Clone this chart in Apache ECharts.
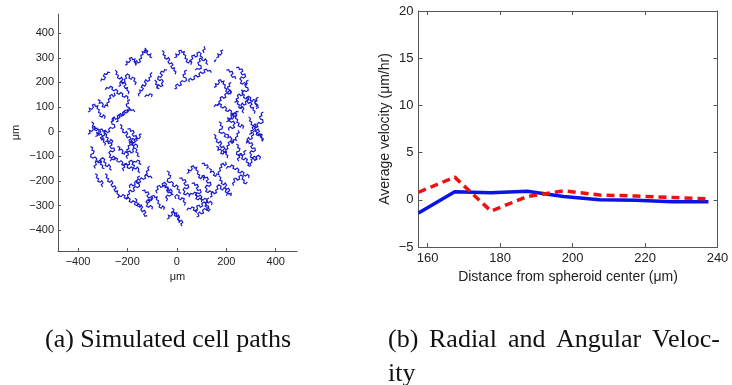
<!DOCTYPE html>
<html>
<head>
<meta charset="utf-8">
<script src="https://cdn.jsdelivr.net/npm/echarts@6/dist/echarts.min.js"></script>
<style>
  html, body { margin: 0; padding: 0; background: #fff; }
  #chart { width: 732px; height: 385px; }
</style>
</head>
<body>
<div id="chart"></div>
<script>
// (a) cell paths as [x1, y1, x2, y2, ...] in um
var cellPaths = [
  [-360,80, -351,84, -354,95, -344,91, -338,99, -342,108, -333,111, -329,102, -320,105, -323,94, -314,89, -317,78, -308,74, -312,64, -303,59, -297,68, -290,62, -294,52],
  [-345,40, -337,33, -341,23, -332,19, -335,9, -326,4, -319,11, -314,2, -321,-6, -315,-15, -306,-10, -301,-19, -309,-25, -304,-34, -295,-31, -297,-42, -289,-47, -292,-57],
  [-250,60, -259,55, -256,45, -265,41, -262,31, -253,28, -251,18, -260,13, -269,17, -276,10, -272,0, -281,-4, -288,3, -295,-3, -291,-13, -300,-17, -298,-27, -307,-31],
  [-290,-40, -280,-38, -277,-48, -267,-45, -263,-54, -271,-60, -265,-69, -255,-66, -252,-76, -260,-82, -269,-78, -275,-86, -268,-94, -273,-103, -264,-107, -257,-100, -249,-106, -251,-116],
  [-330,-150, -335,-140, -326,-134, -330,-123, -320,-119, -315,-127, -306,-122, -309,-112, -300,-106, -292,-113, -296,-123, -287,-128, -290,-138, -281,-142, -275,-134, -269,-142, -272,-152, -264,-157],
  [-270,-120, -264,-111, -255,-114, -249,-106, -240,-110, -243,-119, -234,-124, -226,-118, -219,-125, -223,-134, -214,-138, -207,-131, -199,-136, -201,-146, -192,-150, -185,-143, -178,-149, -180,-159],
  [-240,-60, -231,-64, -234,-75, -224,-71, -218,-79, -222,-88, -213,-91, -209,-82, -200,-85, -203,-74, -194,-69, -197,-58, -188,-54, -192,-44, -183,-39, -177,-48, -170,-42, -174,-32],
  [-230,30, -222,23, -226,13, -217,9, -220,-1, -211,-6, -204,1, -199,-8, -206,-16, -200,-25, -191,-20, -186,-29, -194,-35, -189,-44, -180,-41, -182,-52, -174,-57, -177,-67],
  [-215,-160, -220,-150, -211,-144, -215,-133, -205,-129, -200,-137, -191,-132, -194,-122, -185,-116, -177,-123, -181,-133, -172,-138, -175,-148, -166,-152, -160,-144, -154,-152, -157,-162, -149,-167],
  [-150,-180, -159,-185, -156,-195, -165,-199, -162,-209, -153,-212, -151,-222, -160,-227, -169,-223, -176,-230, -172,-240, -181,-244, -188,-237, -195,-243, -191,-253, -200,-257, -198,-267, -207,-271],
  [-140,-240, -130,-238, -127,-248, -117,-245, -113,-254, -121,-260, -115,-269, -105,-266, -102,-276, -110,-282, -119,-278, -125,-286, -118,-294, -123,-303, -114,-307, -107,-300, -99,-306, -101,-316],
  [-100,-190, -106,-181, -115,-184, -121,-176, -130,-180, -127,-189, -136,-194, -144,-188, -151,-195, -147,-204, -156,-208, -163,-201, -171,-206, -169,-216, -178,-220, -185,-213, -192,-219, -190,-229],
  [-120,-290, -111,-286, -114,-275, -104,-279, -98,-271, -102,-262, -93,-259, -89,-268, -80,-265, -83,-276, -74,-281, -77,-292, -68,-296, -72,-306, -63,-311, -57,-302, -50,-308, -54,-318],
  [-170,-270, -162,-277, -166,-287, -157,-291, -160,-301, -151,-306, -144,-299, -139,-308, -146,-316, -140,-325, -131,-320, -126,-329, -134,-335, -129,-344, -120,-341],
  [-80,-250, -85,-240, -76,-234, -80,-223, -70,-219, -65,-227, -56,-222, -59,-212, -50,-206, -42,-213, -46,-223, -37,-228, -40,-238, -31,-242, -25,-234, -19,-242, -22,-252, -14,-257],
  [-40,-160, -31,-165, -34,-175, -25,-179, -28,-189, -37,-192, -39,-202, -30,-207, -21,-203, -14,-210, -18,-220, -9,-224, -2,-217, 5,-223, 1,-233, 10,-237, 8,-247, 17,-251],
  [10,-190, 20,-188, 23,-198, 33,-195, 37,-204, 29,-210, 35,-219, 45,-216, 48,-226, 40,-232, 31,-228, 25,-236, 32,-244, 27,-253, 36,-257, 43,-250, 51,-256, 49,-266],
  [40,-170, 49,-166, 46,-155, 56,-159, 62,-151, 58,-142, 67,-139, 71,-148, 80,-145, 77,-156, 86,-161, 83,-172, 92,-176, 88,-186, 97,-191, 103,-182, 110,-188, 106,-198],
  [-20,-310, -12,-317, -16,-327, -7,-331, -10,-341, -1,-346, 6,-339, 11,-348, 4,-356, 10,-365, 19,-360, 24,-369, 16,-375, 21,-384],
  [50,-260, 56,-251, 65,-254, 71,-246, 80,-250, 77,-259, 86,-264, 94,-258, 101,-265, 97,-274, 106,-278, 113,-271, 121,-276, 119,-286, 128,-290, 135,-283, 142,-289, 140,-299],
  [130,-270, 121,-275, 124,-285, 115,-289, 118,-299, 127,-302, 129,-312, 120,-317, 111,-313, 104,-320, 108,-330, 99,-334, 92,-327, 85,-333, 89,-343, 80,-347],
  [80,-330, 75,-320, 84,-314, 80,-303, 90,-299, 95,-307, 104,-302, 101,-292, 110,-286, 118,-293, 114,-303, 123,-308, 120,-318, 129,-322, 135,-314],
  [100,-180, 110,-178, 113,-188, 123,-185, 127,-194, 119,-200, 125,-209, 135,-206, 138,-216, 130,-222, 121,-218, 115,-226, 122,-234, 117,-243, 126,-247, 133,-240, 141,-246, 139,-256],
  [130,-150, 139,-154, 136,-165, 146,-161, 152,-169, 148,-178, 157,-181, 161,-172, 170,-175, 167,-164, 176,-159, 173,-148, 182,-144, 178,-134, 187,-129, 193,-138, 200,-132, 196,-122],
  [170,-180, 178,-187, 174,-197, 183,-201, 180,-211, 189,-216, 196,-209, 201,-218, 194,-226, 200,-235, 209,-230, 214,-239, 206,-245, 211,-254, 220,-251, 218,-262],
  [200,-150, 206,-141, 215,-144, 221,-136, 230,-140, 227,-149, 236,-154, 244,-148, 251,-155, 247,-164, 256,-168, 263,-161, 271,-166, 269,-176, 278,-180, 285,-173, 292,-179, 290,-189],
  [230,-220, 225,-210, 234,-204, 230,-193, 240,-189, 245,-197, 254,-192, 251,-182, 260,-176, 268,-183, 264,-193, 273,-198, 270,-208, 279,-212, 285,-204],
  [240,-50, 249,-55, 246,-65, 255,-69, 252,-79, 243,-82, 241,-92, 250,-97, 259,-93, 266,-100, 262,-110, 271,-114, 278,-107, 285,-113, 281,-123, 290,-127, 288,-137, 297,-141],
  [280,-40, 290,-38, 293,-48, 303,-45, 307,-54, 299,-60, 305,-69, 315,-66, 318,-76, 310,-82, 301,-78, 295,-86, 302,-94, 297,-103, 306,-107, 313,-100, 321,-106, 319,-116],
  [160,-60, 169,-64, 166,-75, 176,-71, 182,-79, 178,-88, 187,-91, 191,-82, 200,-85, 197,-74, 206,-69, 203,-58, 212,-54, 208,-44, 217,-39, 223,-48, 230,-42, 226,-32],
  [150,-10, 158,-17, 154,-27, 163,-31, 160,-41, 169,-46, 176,-39, 181,-48, 174,-56, 180,-65, 189,-60, 194,-69, 186,-75, 191,-84, 200,-81, 198,-92, 206,-97, 203,-107],
  [345,-40, 350,-30, 341,-24, 345,-13, 335,-9, 330,-17, 321,-12, 324,-2, 315,4, 307,-3, 311,-13, 302,-18, 305,-28, 296,-32, 290,-24, 284,-32, 287,-42, 279,-47],
  [350,80, 341,75, 344,65, 335,61, 338,51, 347,48, 349,38, 340,33, 331,37, 324,30, 328,20, 319,16, 312,23, 305,17, 309,7, 300,3, 302,-7, 293,-11],
  [250,80, 240,82, 237,72, 227,75, 223,66, 231,60, 225,51, 215,54, 212,44, 220,38, 229,42, 235,34, 228,26, 233,17, 224,13, 217,20, 209,14, 211,4],
  [200,40, 209,44, 206,55, 216,51, 222,59, 218,68, 227,71, 231,62, 240,65, 237,54, 246,49, 243,38, 252,34, 248,24, 257,19, 263,28, 270,22, 266,12],
  [150,100, 156,109, 165,106, 171,114, 180,110, 177,101, 186,96, 194,102, 201,95, 197,86, 206,82, 213,89, 221,84, 219,74, 228,70, 235,77, 242,71, 240,61],
  [260,170, 268,163, 264,153, 273,149, 270,139, 279,134, 286,141, 291,132, 284,124, 290,115, 299,120, 304,111, 296,105, 301,96, 310,99, 308,88, 316,83, 313,73],
  [320,100, 325,110, 316,116, 320,127, 310,131, 305,123, 296,128, 299,138, 290,144, 282,137, 286,127, 277,122, 280,112, 271,108, 265,116, 259,108, 262,98, 254,93],
  [220,200, 211,195, 214,185, 205,181, 208,171, 217,168, 219,158, 210,153, 201,157, 194,150, 198,140, 189,136, 182,143, 175,137, 179,127, 170,123, 172,113, 163,109],
  [240,260, 250,262, 253,252, 263,255, 267,246, 259,240, 265,231, 275,234, 278,224, 270,218, 261,222, 255,214, 262,206, 257,197, 266,193, 273,200, 281,194, 279,184],
  [150,180, 159,184, 156,195, 166,191, 172,199, 168,208, 177,211, 181,202, 190,205, 187,194, 196,189, 193,178, 202,174, 198,164, 207,159, 213,168, 220,162, 216,152],
  [140,240, 134,249, 125,246, 119,254, 110,250, 113,241, 104,236, 96,242, 89,235, 93,226, 84,222, 77,229, 69,224, 71,214, 62,210, 55,217, 48,211, 50,201],
  [60,280, 55,290, 64,296, 60,307, 70,311, 75,303, 84,308, 81,318, 90,324, 98,317, 94,307, 103,302, 100,292, 109,288, 115,296, 121,288, 118,278, 126,273],
  [-10,300, -1,304, -4,315, 6,311, 12,319, 8,328, 17,331, 21,322, 30,325, 27,314, 36,309, 33,298, 42,294, 38,284, 47,279, 53,288, 60,282, 56,272],
  [-60,330, -52,323, -56,313, -47,309, -50,299, -41,294, -34,301, -29,292, -36,284, -30,275, -21,280, -16,271, -24,265, -19,256, -10,259, -12,248, -4,243, -7,233],
  [40,250, 31,245, 34,235, 25,231, 28,221, 37,218, 39,208, 30,203, 21,207, 14,200, 18,190, 9,186, 2,193, -5,187, -1,177, -10,173],
  [-40,250, -50,252, -53,242, -63,245, -67,236, -59,230, -65,221, -75,224, -78,214, -70,208, -61,212, -55,204, -62,196, -57,187, -66,183, -73,190, -81,184, -79,174],
  [-100,300, -109,304, -106,315, -116,311, -122,319, -118,328, -127,331, -131,322, -140,325, -137,314, -146,309, -143,298, -152,294, -148,284, -157,279, -163,288, -170,282, -166,272],
  [-100,240, -108,233, -104,223, -113,219, -110,209, -119,204, -126,211, -131,202, -124,194, -130,185, -139,190, -144,181, -136,175, -141,166, -150,169, -148,158, -156,153, -153,143],
  [-170,190, -165,200, -174,206, -170,217, -180,221, -185,213, -194,218, -191,228, -200,234, -208,227, -204,217, -213,212, -210,202, -219,198, -225,206, -231,198, -228,188, -236,183],
  [-190,130, -199,125, -196,115, -205,111, -202,101, -193,98, -191,88, -200,83, -209,87, -216,80, -212,70, -221,66, -228,73, -235,67, -231,57, -240,53, -238,43, -247,39],
  [-290,170, -284,179, -275,176, -269,184, -260,180, -263,171, -254,166, -246,172, -239,165, -243,156, -234,152, -227,159, -219,154, -221,144, -212,140, -205,147, -198,141, -200,131],
  [-250,250, -242,243, -246,233, -237,229, -240,219, -231,214, -224,221, -219,212, -226,204, -220,195, -211,200, -206,191, -214,185, -209,176, -200,179, -202,168, -194,163, -197,153],
  [-320,130, -311,126, -314,115, -304,119, -298,111, -302,102, -293,99, -289,108, -280,105, -283,116, -274,121, -277,132, -268,136, -272,146, -263,151, -257,142, -250,148, -254,158],
  [-200,10, -190,12, -187,2, -177,5, -173,-4, -181,-10, -175,-19, -165,-16, -162,-26, -170,-32, -179,-28, -185,-36, -178,-44, -183,-53, -174,-57, -167,-50, -159,-56, -161,-66],
  [-200,-110, -205,-100, -196,-94, -200,-83, -190,-79, -185,-87, -176,-82, -179,-72, -170,-66, -162,-73, -166,-83, -157,-88, -160,-98, -151,-102],
  [-170,80, -176,89, -185,86, -191,94, -200,90, -197,81, -206,76, -214,82, -221,75, -217,66, -226,62, -233,69, -241,64, -239,54, -248,50, -255,57, -262,51, -260,41],
  [-330,-20, -321,-16, -324,-5, -314,-9, -308,-1, -312,8, -303,11, -299,2, -290,5, -293,-6, -284,-11, -287,-22, -278,-26, -282,-36, -273,-41, -267,-32, -260,-38, -264,-48],
  [-350,-60, -341,-65, -344,-75, -335,-79, -338,-89, -347,-92, -349,-102, -340,-107, -331,-103, -324,-110, -328,-120, -319,-124, -312,-117, -305,-123, -309,-133, -300,-137, -302,-147, -293,-151],
  [-290,-170, -282,-177, -286,-187, -277,-191, -280,-201, -271,-206, -264,-199, -259,-208, -266,-216, -260,-225, -251,-220, -246,-229, -254,-235, -249,-244, -240,-241, -242,-252, -234,-257, -237,-267],
  [-240,-270, -234,-261, -225,-264, -219,-256, -210,-260, -213,-269, -204,-274, -196,-268, -189,-275, -193,-284, -184,-288, -177,-281, -169,-286, -171,-296, -162,-300, -155,-293, -148,-299, -150,-309],
  [60,-210, 70,-208, 73,-218, 83,-215, 87,-224, 79,-230, 85,-239, 95,-236, 98,-246, 90,-252, 81,-248, 75,-256, 82,-264, 77,-273, 86,-277, 93,-270, 101,-276, 99,-286],
  [200,-260, 205,-250, 196,-244, 200,-233, 190,-229, 185,-237, 176,-232, 179,-222, 170,-216, 162,-223, 166,-233, 157,-238, 160,-248, 151,-252, 145,-244, 139,-252, 142,-262, 134,-267],
  [-40,-355, -31,-351, -34,-340, -24,-344, -18,-336, -22,-327, -13,-324, -9,-333, 0,-330, -3,-341, 6,-346, 3,-357, 12,-361, 8,-371],
  [290,60, 298,53, 294,43, 303,39, 300,29, 309,24, 316,31, 321,22, 314,14, 320,5, 329,10, 334,1, 326,-5, 331,-14, 340,-11, 338,-22, 346,-27, 343,-37],
  [290,210, 281,205, 284,195, 275,191, 278,181, 287,178, 289,168, 280,163, 271,167, 264,160, 268,150, 259,146, 252,153, 245,147, 249,137, 240,133, 242,123, 233,119],
  [160,300, 169,304, 166,315, 176,311, 182,319, 178,328, 187,331],
  [200,250, 210,252, 213,242, 223,245, 227,236, 219,230, 225,221, 235,224, 238,214],
  [170,40, 179,35, 176,25, 185,21, 182,11, 173,8, 171,-2, 180,-7, 189,-3, 196,-10, 192,-20, 201,-24],
  [-170,-40, -161,-36, -164,-25, -154,-29, -148,-21, -152,-12, -143,-9],
  [-130,140, -124,149, -115,146, -109,154, -100,150, -103,141],
  [100,-130, 110,-128, 113,-138, 123,-135, 127,-144, 119,-150],
  [-110,-140, -118,-147, -114,-157, -123,-161, -120,-171, -129,-176],
  [110,320, 105,330, 114,336, 110,347],
  [-130,340, -125,335, -131,330, -124,327, -128,320],
  [150,285, 156,290, 153,283],
  [-210,270, -201,274, -204,285, -194,281, -188,289, -192,298, -183,301, -179,292, -170,295, -173,284, -164,279, -167,268],
  [-330,-170, -322,-177, -326,-187, -317,-191, -320,-201, -311,-206, -304,-199, -299,-208, -306,-216, -300,-225],
  [300,-140, 295,-130, 304,-124, 300,-113, 310,-109, 315,-117, 324,-112, 321,-102, 330,-96, 338,-103, 334,-113],
  [-60,-220, -50,-218, -47,-228, -37,-225, -33,-234, -41,-240, -35,-249, -25,-246, -22,-256, -30,-262, -39,-258, -45,-266, -38,-274, -43,-283],
  [200,-10, 209,-14, 206,-25, 216,-21, 222,-29, 218,-38, 227,-41, 231,-32, 240,-35, 237,-24, 246,-19, 243,-8, 252,-4, 248,6],
  [-180,-130, -174,-121, -165,-124, -159,-116, -150,-120, -153,-129, -144,-134],
  [100,300, 91,295, 94,285, 85,281, 88,271, 97,268, 99,258, 90,253, 81,257, 74,250],
  [-90,210, -82,203, -86,193, -77,189, -80,179, -71,174],
  [250,-120, 245,-110, 254,-104, 250,-93, 260,-89, 265,-97, 274,-92, 271,-82, 280,-76],
  [-270,240, -280,242, -283,232, -293,235, -297,226, -289,220, -295,211, -305,214, -308,204],
  [-360,-10, -351,-6, -354,5, -344,1, -338,9, -342,18, -333,21, -329,12, -320,15],
  [40,-320, 46,-311, 55,-314, 61,-306, 70,-310, 67,-319, 76,-324, 84,-318],
  [240,130, 248,123, 244,113, 253,109, 250,99, 259,94, 266,101, 271,92, 264,84, 270,75],
  [330,140, 321,135, 324,125, 315,121, 318,111, 327,108, 329,98, 320,93],
  [30,-300, 35,-290, 26,-284, 30,-273, 20,-269, 15,-277, 6,-272, 9,-262, 0,-256, -8,-263, -4,-273]
];
var pathTicksX = [-400, -200, 0, 200, 400];
var pathTicksY = [-400, -300, -200, -100, 0, 100, 200, 300, 400];

// (b) velocities
var distance = [157.5, 167.5, 177.5, 187.5, 197.5, 207.5, 217.5, 227.5, 237.5];
var radialVel = [-1.4, 0.85, 0.75, 0.9, 0.35, 0.0, -0.05, -0.2, -0.2];
var angularVel = [0.8, 2.4, -1.2, 0.35, 0.95, 0.5, 0.4, 0.25, 0.1];
var distTicks = [160, 180, 200, 220, 240];

// caption words for (b), first line is spread out like justified text
var captionA = '(a) Simulated cell paths';
var captionBWords = ['(b)', 'Radial', 'and', 'Angular', 'Veloc-'];
var captionBWordX = [388, 429, 508, 556, 652];
var captionBTail = 'ity';

var chart = echarts.init(document.getElementById('chart'));

function toPairs(flat) {
  var out = [];
  for (var i = 0; i < flat.length; i += 2) out.push([flat[i], flat[i + 1]]);
  return out;
}
function zip(xs, ys) {
  return xs.map(function (x, i) { return [x, ys[i]]; });
}
function minus(v) { return String(v).replace('-', '\u2212'); }

var axisColor = '#555';
var sans = 'Liberation Sans, Arial, sans-serif';
var serif = 'Liberation Serif, Times New Roman, serif';

function captionText(txt, x, y) {
  return {
    type: 'text', left: x, top: y, silent: true,
    style: { text: txt, fontSize: 26, fontFamily: serif, fill: '#111' }
  };
}

var graphics = [captionText(captionA, 45, 327)];
captionBWords.forEach(function (w, i) {
  graphics.push(captionText(w, captionBWordX[i], 327));
});
graphics.push(captionText(captionBTail, 388, 361));

var option = {
  backgroundColor: '#fff',
  animation: false,
  grid: [
    { left: 58, top: 14, width: 239, height: 237 },
    { left: 418.5, top: 11, width: 299, height: 236 }
  ],
  xAxis: [
    {
      gridIndex: 0, type: 'value', min: -481, max: 486,
      name: 'μm', nameLocation: 'middle', nameGap: 17,
      nameTextStyle: { fontSize: 11, color: '#222', fontFamily: sans },
      axisLine: { onZero: false, lineStyle: { color: axisColor } },
      axisTick: { inside: true, length: 3, customValues: pathTicksX, lineStyle: { color: axisColor } },
      axisLabel: { fontSize: 11, margin: 5, color: '#222', fontFamily: sans,
        customValues: pathTicksX, formatter: minus },
      splitLine: { show: false }
    },
    {
      gridIndex: 1, type: 'value', min: 157.5, max: 240,
      name: 'Distance from spheroid center (μm)', nameLocation: 'middle', nameGap: 20,
      nameTextStyle: { fontSize: 14, color: '#222', fontFamily: sans },
      axisLine: { onZero: false, lineStyle: { color: axisColor } },
      axisTick: { inside: true, length: 4, customValues: distTicks, lineStyle: { color: axisColor } },
      axisLabel: { fontSize: 13, margin: 5, color: '#222', fontFamily: sans, customValues: distTicks },
      splitLine: { show: false }
    },
    {
      gridIndex: 1, type: 'value', min: 157.5, max: 240, position: 'top',
      axisLine: { onZero: false, lineStyle: { color: axisColor } },
      axisTick: { inside: true, length: 4, customValues: distTicks, lineStyle: { color: axisColor } },
      axisLabel: { show: false },
      splitLine: { show: false }
    }
  ],
  yAxis: [
    {
      gridIndex: 0, type: 'value', min: -485, max: 478,
      name: 'μm', nameLocation: 'middle', nameGap: 37,
      nameTextStyle: { fontSize: 11, color: '#222', fontFamily: sans },
      axisLine: { onZero: false, lineStyle: { color: axisColor } },
      axisTick: { inside: true, length: 3, customValues: pathTicksY, lineStyle: { color: axisColor } },
      axisLabel: { fontSize: 11, margin: 4, color: '#222', fontFamily: sans,
        customValues: pathTicksY, formatter: minus },
      splitLine: { show: false }
    },
    {
      gridIndex: 1, type: 'value', min: -5, max: 20, interval: 5,
      name: 'Average velocity (μm/hr)', nameLocation: 'middle', nameGap: 26,
      nameTextStyle: { fontSize: 14, color: '#222', fontFamily: sans },
      axisLine: { onZero: false, lineStyle: { color: axisColor } },
      axisTick: { inside: true, length: 4, lineStyle: { color: axisColor } },
      axisLabel: { fontSize: 13, margin: 5, color: '#222', fontFamily: sans, formatter: minus },
      splitLine: { show: false }
    },
    {
      gridIndex: 1, type: 'value', min: -5, max: 20, interval: 5, position: 'right',
      axisLine: { onZero: false, lineStyle: { color: axisColor } },
      axisTick: { inside: true, length: 4, lineStyle: { color: axisColor } },
      axisLabel: { show: false },
      splitLine: { show: false }
    }
  ],
  series: [
    {
      type: 'lines',
      coordinateSystem: 'cartesian2d',
      xAxisIndex: 0, yAxisIndex: 0,
      polyline: true,
      silent: true,
      lineStyle: { color: '#1a1ad0', width: 1.2, opacity: 1 },
      data: cellPaths.map(function (p) { return { coords: toPairs(p) }; })
    },
    {
      name: 'Radial', type: 'line',
      xAxisIndex: 1, yAxisIndex: 1,
      data: zip(distance, radialVel),
      showSymbol: false,
      lineStyle: { color: '#0a14e6', width: 3.5 }
    },
    {
      name: 'Angular', type: 'line',
      xAxisIndex: 1, yAxisIndex: 1,
      data: zip(distance, angularVel),
      showSymbol: false,
      lineStyle: { color: '#ee1111', width: 3.5, type: [8, 5] }
    }
  ],
  graphic: graphics
};

chart.setOption(option);
</script>
</body>
</html>
